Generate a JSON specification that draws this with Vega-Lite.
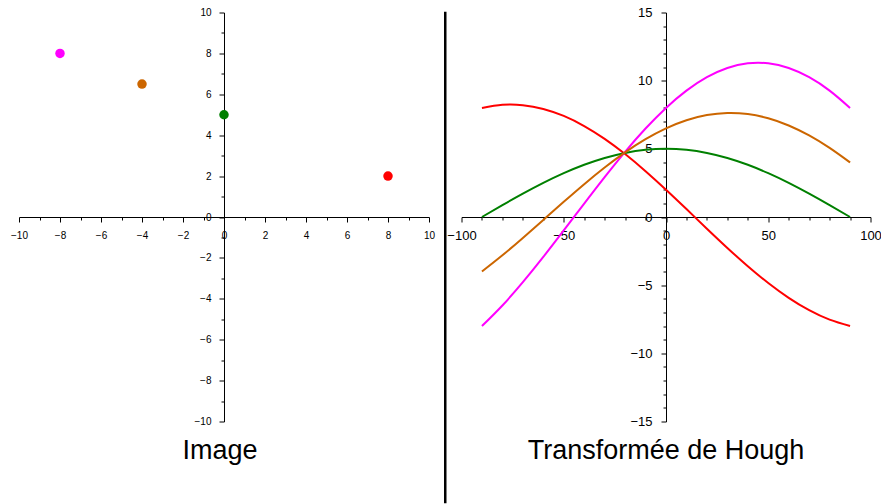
{
  "$schema": "https://vega.github.io/schema/vega-lite/v6.json",
  "padding": {"left": 10, "top": 6.5, "right": 0, "bottom": 0},
  "background": "white",
  "bounds": "flush",
  "spacing": 15.75,
  "config": {
    "view": {"stroke": null},
    "font": "Liberation Sans",
    "axis": {
      "grid": false,
      "domainColor": "black",
      "tickColor": "black",
      "labelColor": "black",
      "labelFont": "Liberation Sans",
      "labelFontSize": 10,
      "labelOverlap": false,
      "labelFlush": false,
      "title": null
    },
    "title": {"font": "Liberation Sans", "fontSize": 27, "fontWeight": "normal", "color": "black"}
  },
  "datasets": {
    "points": [
      {"x": -8, "y": 8, "p": "P1"},
      {"x": -4, "y": 6.5, "p": "P2"},
      {"x": 0, "y": 5, "p": "P3"},
      {"x": 8, "y": 2, "p": "P4"}
    ],
    "hough": [
      {"theta": -90, "rho": 8, "p": "P4"}, {"theta": -80, "rho": 8.226, "p": "P4"}, {"theta": -70, "rho": 8.202, "p": "P4"}, {"theta": -60, "rho": 7.928, "p": "P4"}, {"theta": -50, "rho": 7.414, "p": "P4"}, {"theta": -40, "rho": 6.674, "p": "P4"}, {"theta": -30, "rho": 5.732, "p": "P4"}, {"theta": -20, "rho": 4.615, "p": "P4"}, {"theta": -10, "rho": 3.359, "p": "P4"}, {"theta": 0, "rho": 2, "p": "P4"}, {"theta": 10, "rho": 0.581, "p": "P4"}, {"theta": 20, "rho": -0.857, "p": "P4"}, {"theta": 30, "rho": -2.268, "p": "P4"}, {"theta": 40, "rho": -3.61, "p": "P4"}, {"theta": 50, "rho": -4.842, "p": "P4"}, {"theta": 60, "rho": -5.928, "p": "P4"}, {"theta": 70, "rho": -6.834, "p": "P4"}, {"theta": 80, "rho": -7.531, "p": "P4"}, {"theta": 90, "rho": -8, "p": "P4"},
      {"theta": -90, "rho": 0, "p": "P3"}, {"theta": -80, "rho": 0.868, "p": "P3"}, {"theta": -70, "rho": 1.71, "p": "P3"}, {"theta": -60, "rho": 2.5, "p": "P3"}, {"theta": -50, "rho": 3.214, "p": "P3"}, {"theta": -40, "rho": 3.83, "p": "P3"}, {"theta": -30, "rho": 4.33, "p": "P3"}, {"theta": -20, "rho": 4.698, "p": "P3"}, {"theta": -10, "rho": 4.924, "p": "P3"}, {"theta": 0, "rho": 5, "p": "P3"}, {"theta": 10, "rho": 4.924, "p": "P3"}, {"theta": 20, "rho": 4.698, "p": "P3"}, {"theta": 30, "rho": 4.33, "p": "P3"}, {"theta": 40, "rho": 3.83, "p": "P3"}, {"theta": 50, "rho": 3.214, "p": "P3"}, {"theta": 60, "rho": 2.5, "p": "P3"}, {"theta": 70, "rho": 1.71, "p": "P3"}, {"theta": 80, "rho": 0.868, "p": "P3"}, {"theta": 90, "rho": 0, "p": "P3"},
      {"theta": -90, "rho": -8, "p": "P1"}, {"theta": -80, "rho": -6.489, "p": "P1"}, {"theta": -70, "rho": -4.782, "p": "P1"}, {"theta": -60, "rho": -2.928, "p": "P1"}, {"theta": -50, "rho": -0.986, "p": "P1"}, {"theta": -40, "rho": 0.986, "p": "P1"}, {"theta": -30, "rho": 2.928, "p": "P1"}, {"theta": -20, "rho": 4.782, "p": "P1"}, {"theta": -10, "rho": 6.489, "p": "P1"}, {"theta": 0, "rho": 8, "p": "P1"}, {"theta": 10, "rho": 9.267, "p": "P1"}, {"theta": 20, "rho": 10.254, "p": "P1"}, {"theta": 30, "rho": 10.928, "p": "P1"}, {"theta": 40, "rho": 11.27, "p": "P1"}, {"theta": 50, "rho": 11.27, "p": "P1"}, {"theta": 60, "rho": 10.928, "p": "P1"}, {"theta": 70, "rho": 10.254, "p": "P1"}, {"theta": 80, "rho": 9.267, "p": "P1"}, {"theta": 90, "rho": 8, "p": "P1"},
      {"theta": -90, "rho": -4, "p": "P2"}, {"theta": -80, "rho": -2.811, "p": "P2"}, {"theta": -70, "rho": -1.536, "p": "P2"}, {"theta": -60, "rho": -0.214, "p": "P2"}, {"theta": -50, "rho": 1.114, "p": "P2"}, {"theta": -40, "rho": 2.408, "p": "P2"}, {"theta": -30, "rho": 3.629, "p": "P2"}, {"theta": -20, "rho": 4.74, "p": "P2"}, {"theta": -10, "rho": 5.706, "p": "P2"}, {"theta": 0, "rho": 6.5, "p": "P2"}, {"theta": 10, "rho": 7.096, "p": "P2"}, {"theta": 20, "rho": 7.476, "p": "P2"}, {"theta": 30, "rho": 7.629, "p": "P2"}, {"theta": 40, "rho": 7.55, "p": "P2"}, {"theta": 50, "rho": 7.242, "p": "P2"}, {"theta": 60, "rho": 6.714, "p": "P2"}, {"theta": 70, "rho": 5.982, "p": "P2"}, {"theta": 80, "rho": 5.067, "p": "P2"}, {"theta": 90, "rho": 4, "p": "P2"}
    ]
  },
  "hconcat": [
    {
      "width": 410,
      "height": 409,
      "title": {"text": "Image", "orient": "bottom", "frame": "group", "anchor": "middle", "offset": 11, "dx": -4},
      "data": {"name": "points"},
      "layer": [
        {
          "mark": {"type": "point", "filled": true, "size": 90, "opacity": 1},
          "encoding": {
            "x": {"field": "x", "type": "quantitative", "scale": {"domain": [-10, 10], "nice": false, "zero": false},
                  "axis": {"orient": "bottom", "offset": -204.5, "values": [-10, -8, -6, -4, -2, 0, 2, 4, 6, 8, 10], "tickSize": 5, "labelPadding": 8.5}},
            "y": {"field": "y", "type": "quantitative", "scale": {"domain": [-10, 10], "nice": false, "zero": false},
                  "axis": {"orient": "left", "offset": -205, "values": [-10, -8, -6, -4, -2, 0, 2, 4, 6, 8, 10], "tickSize": 5, "labelPadding": 8}},
            "color": {"field": "p", "type": "nominal", "legend": null,
                      "scale": {"domain": ["P1", "P2", "P3", "P4"], "range": ["#ff00ff", "#cc6600", "#008000", "#ff0000"]}}
          }
        },
        {
          "mark": {"type": "point", "opacity": 0},
          "encoding": {
            "x": {"field": "x", "type": "quantitative",
                  "axis": {"orient": "bottom", "offset": -204.5, "values": [-9, -7, -5, -3, -1, 1, 3, 5, 7, 9], "tickSize": 3, "labels": false, "domain": false}},
            "y": {"field": "y", "type": "quantitative",
                  "axis": {"orient": "left", "offset": -205, "values": [-9, -7, -5, -3, -1, 1, 3, 5, 7, 9], "tickSize": 3, "labels": false, "domain": false}}
          }
        }
      ],
      "resolve": {"axis": {"x": "independent", "y": "independent"}}
    },
    {
      "width": 1,
      "height": 409,
      "data": {"values": [{}]},
      "mark": {"type": "rule", "strokeWidth": 2.5, "color": "black"},
      "encoding": {
        "x": {"datum": 0.5, "type": "quantitative", "scale": {"domain": [0, 1]}, "axis": null},
        "y": {"datum": 15.05, "type": "quantitative", "scale": {"domain": [-15, 15], "nice": false, "zero": false}, "axis": null},
        "y2": {"datum": -21}
      }
    },
    {
      "width": 409,
      "height": 409,
      "title": {"text": "Transformée de Hough", "orient": "bottom", "frame": "group", "anchor": "middle", "offset": 9.5},
      "data": {"name": "hough"},
      "layer": [
        {
          "mark": {"type": "line", "strokeWidth": 2, "interpolate": "natural"},
          "encoding": {
            "x": {"field": "theta", "type": "quantitative", "scale": {"domain": [-100, 100], "nice": false, "zero": false},
                  "axis": {"orient": "bottom", "offset": -204.5, "values": [-100, -50, 0, 50, 100], "tickSize": 5, "labelPadding": 7.5, "labelFontSize": 13}},
            "y": {"field": "rho", "type": "quantitative", "scale": {"domain": [-15, 15], "nice": false, "zero": false},
                  "axis": {"orient": "left", "offset": -204.5, "values": [-15, -10, -5, 0, 5, 10, 15], "tickSize": 5, "labelPadding": 9, "labelFontSize": 13}},
            "color": {"field": "p", "type": "nominal", "legend": null,
                      "scale": {"domain": ["P1", "P2", "P3", "P4"], "range": ["#ff00ff", "#cc6600", "#008000", "#ff0000"]}}
          }
        },
        {
          "mark": {"type": "point", "opacity": 0},
          "encoding": {
            "x": {"field": "theta", "type": "quantitative",
                  "axis": {"orient": "bottom", "offset": -204.5, "values": [-90, -80, -70, -60, -40, -30, -20, -10, 10, 20, 30, 40, 60, 70, 80, 90], "tickSize": 3, "labels": false, "domain": false}},
            "y": {"field": "rho", "type": "quantitative",
                  "axis": {"orient": "left", "offset": -204.5, "values": [-14, -13, -12, -11, -9, -8, -7, -6, -4, -3, -2, -1, 1, 2, 3, 4, 6, 7, 8, 9, 11, 12, 13, 14], "tickSize": 3, "labels": false, "domain": false}}
          }
        }
      ],
      "resolve": {"axis": {"x": "independent", "y": "independent"}}
    }
  ]
}
